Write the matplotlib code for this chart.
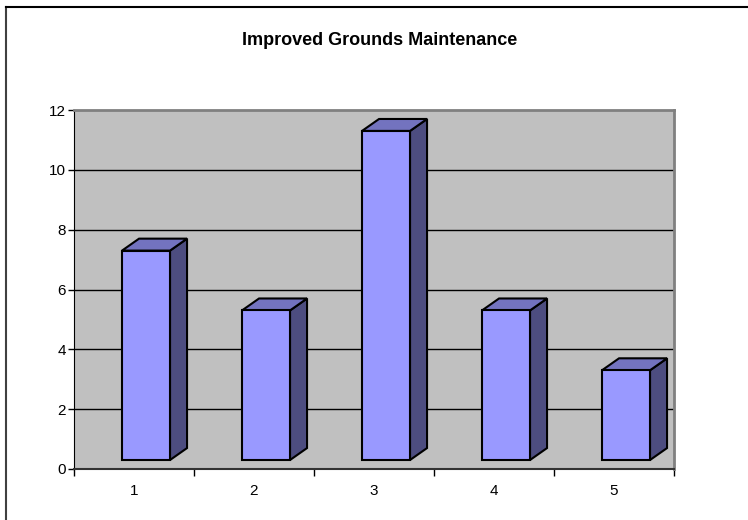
import matplotlib
matplotlib.use("Agg")
import matplotlib.pyplot as plt
from matplotlib.patches import Polygon, Rectangle

categories = ["1", "2", "3", "4", "5"]
values = [7, 5, 11, 5, 3]
y_ticks = [0, 2, 4, 6, 8, 10, 12]

FRONT = "#9999FF"
TOP = "#7373BF"
SIDE = "#4D4D80"


def main():
    plt.rcParams["font.family"] = ["Liberation Sans", "DejaVu Sans"]
    fig = plt.figure(figsize=(7.48, 5.20), dpi=100)

    # chart border (only top and left edges show in the crop)
    fig.add_artist(plt.Line2D([6 / 748, 6 / 748], [0, 1 - 7 / 520],
                              transform=fig.transFigure, color="#404040", lw=1.5))
    fig.add_artist(plt.Line2D([6 / 748, 1], [1 - 7 / 520, 1 - 7 / 520],
                              transform=fig.transFigure, color="#000000", lw=1.5))

    ax = fig.add_axes([74 / 748, 51 / 520, 600 / 748, 359 / 520])
    ax.set_facecolor("#C0C0C0")
    ax.set_xlim(0.5, len(categories) + 0.5)
    ax.set_ylim(0, 12)

    for y in y_ticks[1:-1]:
        ax.axhline(y, color="#000000", lw=1, zorder=1)

    base = 0.3   # floor offset of the front face
    w = 0.4      # front face width
    dx, dy = 0.142, 0.40  # depth offset
    for i, v in enumerate(values, start=1):
        x0 = i - 0.1
        x1 = x0 + w
        top = base + v
        ax.add_patch(Polygon([(x1, base), (x1 + dx, base + dy), (x1 + dx, top + dy), (x1, top)],
                             closed=True, fc=SIDE, ec="black", lw=1.5, zorder=3))
        ax.add_patch(Polygon([(x0, top), (x1, top), (x1 + dx, top + dy), (x0 + dx, top + dy)],
                             closed=True, fc=TOP, ec="black", lw=1.5, zorder=3))
        ax.add_patch(Rectangle((x0, base), w, v, fc=FRONT, ec="black", lw=1.5, zorder=4))

    ax.set_yticks(y_ticks)
    ax.set_yticklabels([str(t) for t in y_ticks])
    ax.set_xticks([i + 0.5 for i in range(len(categories) + 1)])
    ax.set_xticklabels([])
    ax.set_xticks(range(1, len(categories) + 1), minor=True)
    ax.set_xticklabels(categories, minor=True)
    ax.tick_params(axis="x", which="minor", length=0, pad=11, labelsize=11)
    ax.tick_params(axis="x", which="major", direction="out", length=5, width=1)
    ax.tick_params(axis="y", direction="out", length=4, width=1, pad=2, labelsize=11)

    for side in ["top", "right"]:
        ax.spines[side].set_color("#808080")
        ax.spines[side].set_linewidth(2)
    ax.spines["left"].set_color("black")
    ax.spines["bottom"].set_color("#333333")
    ax.spines["bottom"].set_linewidth(1.5)

    fig.text(380 / 748, 1 - 41 / 520, "Improved Grounds Maintenance",
             ha="center", va="center", fontsize=13, fontweight="bold")

    fig.savefig("out.png", dpi=100)


if __name__ == "__main__":
    main()
